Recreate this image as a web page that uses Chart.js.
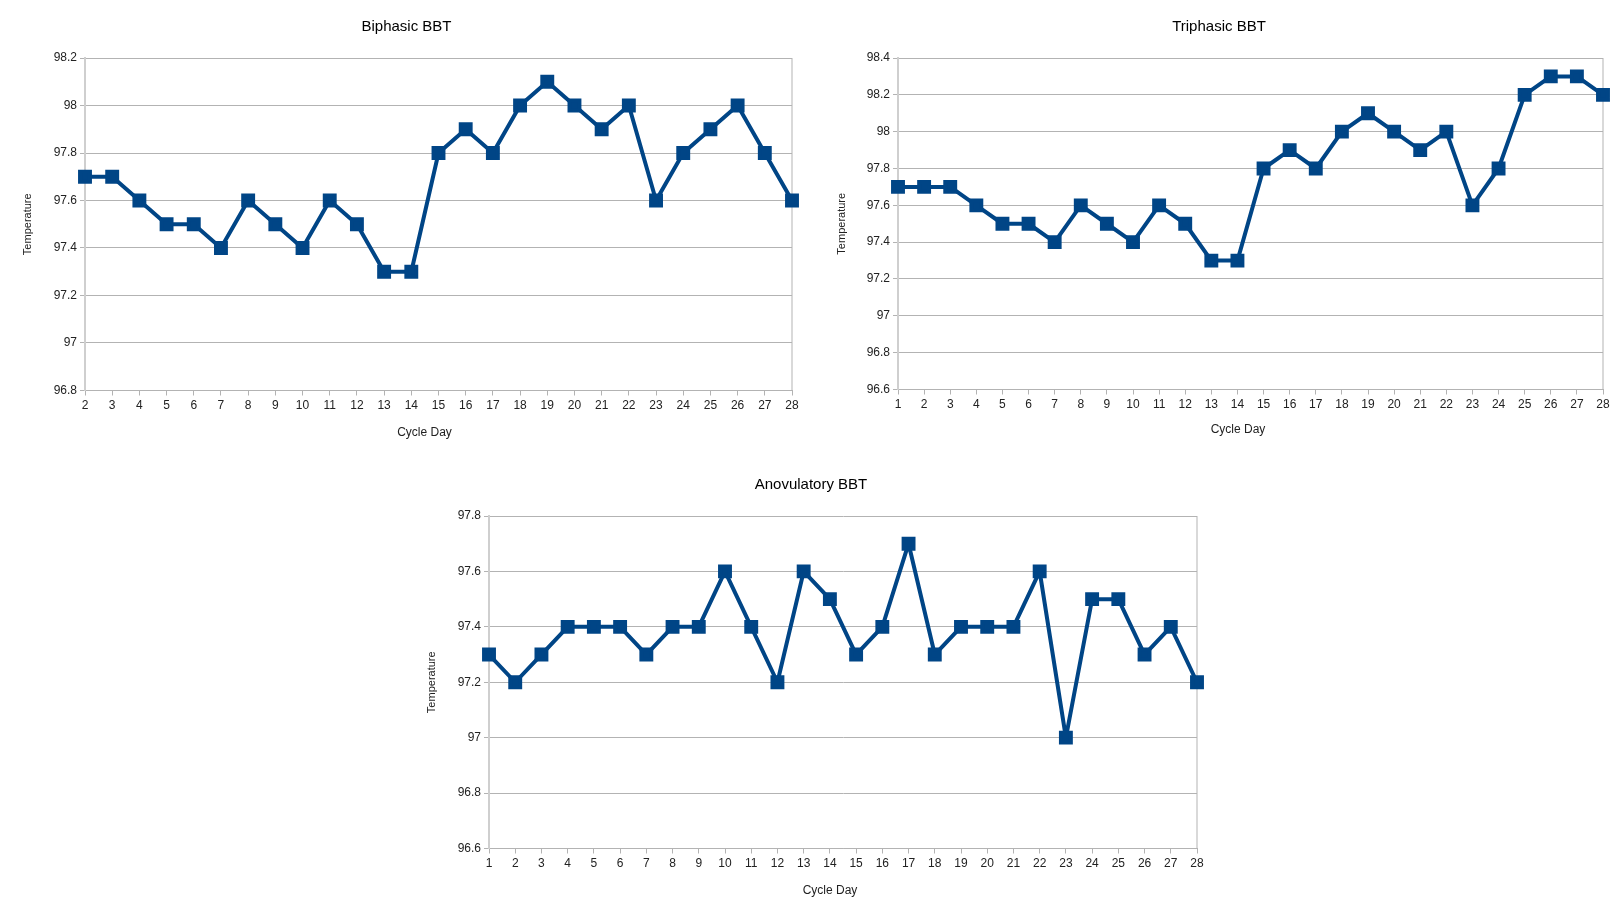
<!DOCTYPE html>
<html>
<head>
<meta charset="utf-8">
<script src="https://cdn.jsdelivr.net/npm/chart.js@4.4.0/dist/chart.umd.min.js"></script>
<style>
  html, body { margin: 0; padding: 0; background: #fff; }
  body { width: 1623px; height: 915px; position: relative; overflow: hidden; }
  .box { position: absolute; }
</style>
</head>
<body>
<div class="box" style="left:0;top:0;width:810px;height:450px"><canvas id="biphasic"></canvas></div>
<div class="box" style="left:812px;top:0;width:811px;height:450px"><canvas id="triphasic"></canvas></div>
<div class="box" style="left:400px;top:450px;width:810px;height:465px"><canvas id="anovulatory"></canvas></div>
<script>
// dias del ciclo
const diasBifasica = ["2","3","4","5","6","7","8","9","10","11","12","13","14","15","16","17","18","19","20","21","22","23","24","25","26","27","28"];
const diasCompletos = ["1","2","3","4","5","6","7","8","9","10","11","12","13","14","15","16","17","18","19","20","21","22","23","24","25","26","27","28"];

// temperaturas
const tempBifasica = [97.7,97.7,97.6,97.5,97.5,97.4,97.6,97.5,97.4,97.6,97.5,97.3,97.3,97.8,97.9,97.8,98.0,98.1,98.0,97.9,98.0,97.6,97.8,97.9,98.0,97.8,97.6];
const tempTrifasica = [97.7,97.7,97.7,97.6,97.5,97.5,97.4,97.6,97.5,97.4,97.6,97.5,97.3,97.3,97.8,97.9,97.8,98.0,98.1,98.0,97.9,98.0,97.6,97.8,98.2,98.3,98.3,98.2];
const tempAnovulatoria = [97.3,97.2,97.3,97.4,97.4,97.4,97.3,97.4,97.4,97.6,97.4,97.2,97.6,97.5,97.3,97.4,97.7,97.3,97.4,97.4,97.4,97.6,97.0,97.5,97.5,97.3,97.4,97.2];

// limites del eje vertical
const ejeBifasica = [96.8, 98.2];
const ejeTrifasica = [96.6, 98.4];
const ejeAnovulatoria = [96.6, 97.8];

Chart.defaults.font.family = "'Liberation Sans', Arial, sans-serif";
Chart.defaults.color = "#222";

// borde derecho del area y titulo "Cycle Day" (un poco a la izquierda del centro, como en el original)
const extras = {
	id: "extras",
	beforeDatasetsDraw(chart, args, opts) {
		const { ctx, chartArea: a } = chart;
		ctx.save();
		ctx.strokeStyle = "#b3b3b3";
		ctx.lineWidth = 1;
		ctx.beginPath();
		ctx.moveTo(a.right, a.top);
		ctx.lineTo(a.right, a.bottom);
		ctx.stroke();
		ctx.fillStyle = "#222";
		ctx.font = "12px 'Liberation Sans', Arial, sans-serif";
		ctx.textAlign = "center";
		ctx.textBaseline = "middle";
		ctx.fillText("Cycle Day", opts.x, opts.y);
		ctx.restore();
	},
};

function crearGrafico(id, titulo, labels, valores, eje, m) {
	const config = {
		type: "line",
		data: {
			labels,
			datasets: [
				{
					data: valores,
					borderColor: "#004586",
					backgroundColor: "#004586",
					borderWidth: 4,
					borderJoinStyle: "round",
					pointStyle: "rect",
					pointRadius: 7,
					pointHoverRadius: 7,
					tension: 0,
					clip: false,
				},
			],
		},
		options: {
			responsive: true,
			maintainAspectRatio: false,
			animation: false,
			layout: { padding: { left: m.padL, right: m.padR, top: 0, bottom: 0 } },
			plugins: {
				legend: { display: false },
				tooltip: { enabled: false },
				title: {
					display: true,
					text: titulo,
					color: "#000",
					font: { size: 15, weight: "normal" },
					padding: { top: m.titTop, bottom: m.titBottom },
				},
				extras: { x: m.xTitX, y: m.xTitY },
			},
			scales: {
				x: {
					offset: false,
					grid: { drawOnChartArea: false, drawTicks: true, tickLength: 5, color: "#b3b3b3" },
					border: { color: "#b3b3b3" },
					ticks: { autoSkip: false, maxRotation: 0, padding: 3, font: { size: 12 } },
					afterFit: (s) => { s.height = m.xAlto; },
				},
				y: {
					min: eje[0],
					max: eje[1],
					grid: { color: "#b3b3b3", tickLength: 5 },
					border: { color: "#cfcfcf", width: 2 },
					ticks: {
						stepSize: 0.2,
						padding: 3,
						font: { size: 12 },
						callback: (v) => String(+v.toFixed(1)),
					},
					title: { display: true, text: "Temperature", font: { size: 11 }, padding: 0 },
					afterFit: (s) => { s.width = m.yAncho; },
				},
			},
		},
		plugins: [extras],
	};
	return new Chart(document.getElementById(id), config);
}

crearGrafico("biphasic", "Biphasic BBT", diasBifasica, tempBifasica, ejeBifasica,
	{ padL: 21, padR: 18, titTop: 18, titBottom: 22, xAlto: 59.5, yAncho: 64, xTitX: 424.5, xTitY: 433 });
crearGrafico("triphasic", "Triphasic BBT", diasCompletos, tempTrifasica, ejeTrifasica,
	{ padL: 23, padR: 20, titTop: 18, titBottom: 22, xAlto: 60.5, yAncho: 63, xTitX: 426, xTitY: 430 });
crearGrafico("anovulatory", "Anovulatory BBT", diasCompletos, tempAnovulatoria, ejeAnovulatoria,
	{ padL: 25, padR: 13, titTop: 26, titBottom: 22, xAlto: 66.5, yAncho: 64, xTitX: 430, xTitY: 441 });
</script>
</body>
</html>
